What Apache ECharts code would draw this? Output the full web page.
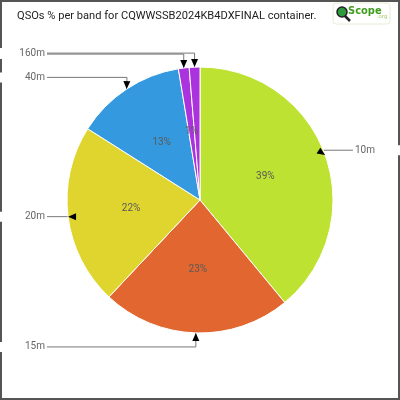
<!DOCTYPE html>
<html>
<head>
<meta charset="utf-8">
<script src="https://cdn.jsdelivr.net/npm/echarts@6/dist/echarts.min.js"></script>
<style>
    html, body { margin: 0; padding: 0; background: #fff; }
    #chart { width: 400px; height: 400px; }
</style>
</head>
<body>
<div id="chart"></div>
<script>
// QSO share per band (percent)
const bands = ['10m', '15m', '20m', '40m', '80m', '160m'];
const shares = [39.0, 23.0, 22.0, 13.4, 1.3, 1.3];
const bandColors = ['#bde232', '#e1662f', '#e0d52f', '#3499de', '#ab33de', '#ab33de'];

const chart = echarts.init(document.getElementById('chart'));

const cx = 200, cy = 200, R = 133;
const total = shares.reduce((a, b) => a + b, 0);

// point on the rim at the middle of slice i
const anchorOf = i => {
    const before = shares.slice(0, i).reduce((a, b) => a + b, 0);
    const deg = 90 - 360 * (before + shares[i] / 2) / total;
    const rad = deg * Math.PI / 180;
    return [cx + R * Math.cos(rad), cy - R * Math.sin(rad)];
};

// label line: label edge -> elbow -> rim
const leaderOf = i => {
    const a = anchorOf(i);
    const side = a[0] < cx ? -1 : 1;
    let dy = (a[1] - cy) / R * 14;
    if (Math.abs(dy) < 3) dy = 0;
    const y = a[1] + dy;
    const elbowX = a[0] - side * Math.max(0, 12 - Math.abs(dy));
    const edgeX = side < 0 ? 47 : 353;
    return { side, y, pts: [[edgeX, y], [elbowX, y], a] };
};

const arrowHead = (from, tip) => {
    const ang = Math.atan2(tip[1] - from[1], tip[0] - from[0]);
    const len = 8, half = 3.5;
    const bx = tip[0] - len * Math.cos(ang), by = tip[1] - len * Math.sin(ang);
    return [
        tip,
        [bx + half * Math.sin(ang), by - half * Math.cos(ang)],
        [bx - half * Math.sin(ang), by + half * Math.cos(ang)]
    ];
};

const pieData = bands.map((b, i) => ({ name: b, value: shares[i] }));

const arrows = bands.map((b, i) => {
    const l = leaderOf(i);
    return {
        type: 'polygon',
        shape: { points: arrowHead(l.pts[1], l.pts[2]) },
        style: { fill: '#000' },
        z: 100
    };
});

const narrow = '"DejaVu Sans Condensed", "Liberation Sans Narrow", "Open Sans", sans-serif';

chart.setOption({
    animation: false,
    color: bandColors,
    title: {
        text: 'QSOs % per band for CQWWSSB2024KB4DXFINAL container.',
        left: 17,
        top: 11,
        padding: 0,
        textStyle: { fontSize: 11.1, fontWeight: 'normal', color: '#222', fontFamily: 'Roboto' }
    },
    graphic: [
        {
            type: 'rect',
            shape: { x: 1, y: 1, width: 398, height: 398 },
            style: { fill: 'none', stroke: '#555', lineWidth: 2 },
            silent: true
        },
        {
            type: 'rect',
            shape: { x: 333, y: 3, width: 57, height: 21, r: 3 },
            style: { fill: '#fff', stroke: '#e6eed2', lineWidth: 1 }
        },
        {
            type: 'line',
            shape: { x1: 345, y1: 16, x2: 350, y2: 21 },
            style: { stroke: '#222', lineWidth: 2.5 }
        },
        {
            type: 'circle',
            shape: { cx: 342, cy: 12, r: 5 },
            style: { fill: '#2d9b3c', stroke: '#222', lineWidth: 1.5 }
        },
        {
            type: 'text',
            style: { text: 'Scope', x: 348, y: 6, fontSize: 11, fontWeight: 'bold', fill: '#3f9c1c', fontFamily: narrow }
        },
        {
            type: 'text',
            style: { text: '.org', x: 377, y: 13, fontSize: 6, fill: '#a9cf70', fontFamily: 'Roboto' }
        },
        ...arrows
    ],
    series: [
        {
            type: 'pie',
            center: [cx, cy],
            radius: R,
            startAngle: 90,
            clockwise: true,
            data: pieData,
            itemStyle: { borderColor: '#fff', borderWidth: 1 },
            label: {
                position: 'inside',
                formatter: p => Math.round(p.percent) + '%',
                color: '#5a5a5a',
                fontSize: 10,
                fontFamily: 'Roboto'
            },
            labelLine: { show: false },
            emphasis: { disabled: true }
        },
        {
            type: 'pie',
            center: [cx, cy],
            radius: R,
            startAngle: 90,
            clockwise: true,
            silent: true,
            data: pieData,
            itemStyle: { color: 'rgba(0,0,0,0)' },
            label: {
                position: 'outside',
                formatter: '{b}',
                color: '#666',
                fontSize: 10,
                fontFamily: 'Roboto',
                backgroundColor: '#fff',
                overflow: 'none',
                width: 60
            },
            labelLine: { show: true, lineStyle: { color: '#777', width: 1 } },
            labelLayout: p => {
                const l = leaderOf(p.dataIndex);
                return {
                    x: l.side < 0 ? 45 : 355,
                    y: l.y,
                    align: l.side < 0 ? 'right' : 'left',
                    verticalAlign: 'middle',
                    labelLinePoints: l.pts
                };
            },
            emphasis: { disabled: true }
        }
    ]
});
</script>
</body>
</html>
